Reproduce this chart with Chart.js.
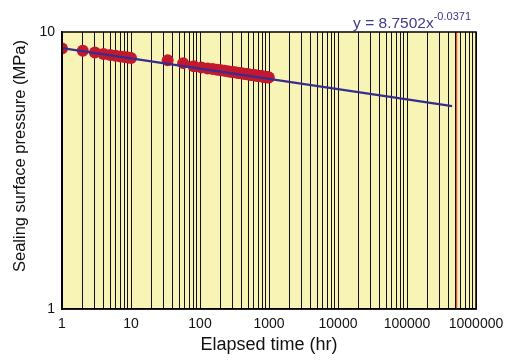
<!DOCTYPE html>
<html>
<head>
<script src="https://cdn.jsdelivr.net/npm/chart.js@4.4.0/dist/chart.umd.min.js"></script>
<style>
  body { margin: 0; background: #fff; }
</style>
</head>
<body>
<canvas id="myChart" width="506" height="361"></canvas>
<script>
  // measured points (hr, MPa)
  var timeHr = [1, 2, 3, 4, 5, 6, 7, 8, 9, 10, 34, 57,
    81, 105, 129, 153, 177, 201, 225, 249, 273, 297, 321, 345, 369, 393, 417, 441,
    465, 489, 513, 537, 561, 585, 609, 633, 657, 681, 705, 729, 753, 777, 801, 825,
    849, 873, 897, 921, 945, 969, 993];
  var pressure = [8.72, 8.55, 8.43, 8.33, 8.26, 8.20, 8.16, 8.12, 8.09, 8.06, 7.90, 7.72,
    7.52, 7.45, 7.39, 7.35, 7.31, 7.27, 7.24, 7.22, 7.19, 7.17, 7.15, 7.13, 7.11, 7.09, 7.08, 7.06,
    7.05, 7.04, 7.03, 7.01, 7.00, 6.99, 6.98, 6.97, 6.96, 6.95, 6.94, 6.93, 6.93, 6.92, 6.91, 6.90,
    6.90, 6.89, 6.88, 6.87, 6.87, 6.86, 6.85];

  // power-law trend line y = 8.7502x^-0.0371
  var trendTime = [1, 10, 100, 1000, 10000, 100000, 450000];
  var trendPressure = [8.75, 8.03, 7.38, 6.77, 6.22, 5.71, 5.40];

  // red marker line
  var limitTime = [525600, 525600];
  var limitPressure = [1, 10];

  var xTickLabels = [1, 10, 100, 1000, 10000, 100000, 1000000];
  var yTickLabels = [1, 10];

  var FONT = '"Liberation Sans", Arial, sans-serif';

  function pts(xs, ys) {
    var out = [];
    for (var i = 0; i < xs.length; i++) out.push({ x: xs[i], y: ys[i] });
    return out;
  }

  var plotBg = {
    id: 'plotBg',
    beforeDraw: function(chart) {
      var a = chart.chartArea, ctx = chart.ctx;
      ctx.save();
      ctx.fillStyle = '#f8f4b6';
      ctx.fillRect(a.left, a.top, a.right - a.left, a.bottom - a.top);
      ctx.restore();
    },
    afterDraw: function(chart) {
      var a = chart.chartArea, ctx = chart.ctx;
      ctx.save();
      ctx.strokeStyle = '#000';
      ctx.lineWidth = 1.5;
      ctx.strokeRect(a.left, a.top, a.right - a.left, a.bottom - a.top);

      // y axis title
      ctx.save();
      ctx.translate(20, 156);
      ctx.rotate(-Math.PI / 2);
      ctx.fillStyle = '#111';
      ctx.font = '16.5px ' + FONT;
      ctx.textAlign = 'center';
      ctx.textBaseline = 'middle';
      ctx.fillText('Sealing surface pressure (MPa)', 0, 0);
      ctx.restore();

      // equation label
      ctx.fillStyle = '#3d3a8c';
      var sup = '-0.0371';
      ctx.font = '11px ' + FONT;
      var supW = ctx.measureText(sup).width;
      var xEnd = 471;
      ctx.textAlign = 'left';
      ctx.fillText(sup, xEnd - supW, 20);
      ctx.font = '15.5px ' + FONT;
      ctx.textAlign = 'right';
      ctx.fillText('y = 8.7502x', xEnd - supW, 28);
      ctx.restore();
    }
  };

  var ctx = document.getElementById('myChart').getContext('2d');
  var chart = new Chart(ctx, {
    type: 'scatter',
    data: {
      datasets: [{
        label: 'trend',
        type: 'line',
        data: pts(trendTime, trendPressure),
        borderColor: '#372d8c',
        borderWidth: 2.2,
        pointRadius: 0,
        fill: false,
        order: 0
      }, {
        label: 'limit',
        type: 'line',
        data: pts(limitTime, limitPressure),
        borderColor: '#e8202a',
        borderWidth: 1,
        pointRadius: 0,
        fill: false,
        order: 1
      }, {
        label: 'Sealing surface pressure',
        data: pts(timeHr, pressure),
        pointBackgroundColor: '#c4182f',
        pointBorderColor: '#c4182f',
        pointBorderWidth: 0,
        pointRadius: 6,
        order: 2
      }]
    },
    options: {
      responsive: false,
      animation: false,
      layout: { padding: { top: 32, right: 30, left: 0, bottom: 0 } },
      plugins: { legend: { display: false }, tooltip: { enabled: false } },
      scales: {
        x: {
          type: 'logarithmic',
          min: 1,
          max: 1000000,
          afterBuildTicks: function(scale) {
            var t = [];
            for (var i = 0; i < xTickLabels.length - 1; i++) {
              for (var k = 1; k < 10; k++) t.push({ value: xTickLabels[i] * k });
            }
            t.push({ value: xTickLabels[xTickLabels.length - 1] });
            scale.ticks = t;
          },
          afterFit: function(scale) {
            scale.height = 52;
            scale.paddingLeft = 0;
            scale.paddingRight = 0;
          },
          grid: { color: '#111', lineWidth: 1, drawTicks: false },
          border: { color: '#000', width: 1.5 },
          ticks: {
            autoSkip: false,
            maxRotation: 0,
            padding: 7,
            color: '#111',
            font: { family: FONT, size: 14 },
            callback: function(v) { return xTickLabels.indexOf(v) >= 0 ? String(v) : ''; }
          },
          title: {
            display: true,
            text: 'Elapsed time (hr)',
            color: '#111',
            font: { family: FONT, size: 18 },
            padding: { top: 0, bottom: 5 }
          }
        },
        y: {
          type: 'logarithmic',
          min: 1,
          max: 10,
          afterBuildTicks: function(scale) {
            scale.ticks = yTickLabels.map(function(v) { return { value: v }; });
          },
          afterFit: function(scale) {
            scale.width = 62;
            scale.paddingTop = 0;
            scale.paddingBottom = 0;
          },
          grid: { display: false, drawTicks: false },
          border: { color: '#000', width: 1.5 },
          ticks: {
            padding: 7,
            color: '#111',
            font: { family: FONT, size: 14 },
            callback: function(v) { return String(v); }
          }
        }
      }
    },
    plugins: [plotBg]
  });
</script>
</body>
</html>
